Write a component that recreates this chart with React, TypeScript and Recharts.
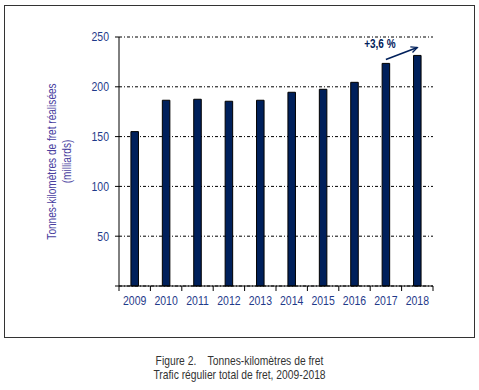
import React from 'react';
import { BarChart, Bar, XAxis, YAxis, CartesianGrid, ReferenceLine, ReferenceDot } from 'recharts';

const years = ['2009', '2010', '2011', '2012', '2013', '2014', '2015', '2016', '2017', '2018'];
const freight = [155, 186.5, 187.5, 185.5, 186.5, 194.5, 197.5, 204.5, 223.5, 231.5];
const yTicks = [0, 50, 100, 150, 200, 250];
const axisTitle = ['Tonnes-kilomètres de fret réalisées', '(milliards)'];
const growthLabel = '+3,6 %';
const captionLines = ['Figure 2.    Tonnes-kilomètres de fret', 'Trafic régulier total de fret, 2009-2018'];
const arrowFrom = { x: '2017', y: 227.5 };
const arrowTo = { x: '2018', y: 239.5 };

const data = years.map((y, i) => ({ year: y, value: freight[i] }));

const FONT = '"Liberation Sans", Arial, sans-serif';
const TICK_COLOR = '#1F3A8A';
const NAVY = '#00205B';
const NARROW = 0.84;

const XTick = (props: any) => {
  const { x, y, payload, index } = props;
  const off = payload && payload.offset != null ? payload.offset : 15.7;
  return (
    <g>
      <line x1={x - off} x2={x - off} y1={y} y2={y + 5} stroke="#000" strokeWidth={1} />
      {index === years.length - 1 && (
        <line x1={x + off} x2={x + off} y1={y} y2={y + 5} stroke="#000" strokeWidth={1} />
      )}
      <text
        x={x}
        y={y + 19}
        textAnchor="middle"
        fill={TICK_COLOR}
        fontSize={12.5}
        fontFamily={FONT}
        transform={`translate(${x} 0) scale(${NARROW} 1) translate(${-x} 0)`}
      >
        {payload.value}
      </text>
    </g>
  );
};

const YTick = (props: any) => {
  const { x, y, payload } = props;
  if (payload.value === 0) return null;
  return (
    <text
      x={x}
      y={y + 4.5}
      textAnchor="end"
      fill={TICK_COLOR}
      fontSize={12.5}
      fontFamily={FONT}
      transform={`translate(${x} 0) scale(${NARROW} 1) translate(${-x} 0)`}
    >
      {payload.value}
    </text>
  );
};

const YTitle = (props: any) => {
  const vb = props.viewBox || { y: 37, height: 249 };
  const cy = vb.y + vb.height / 2;
  return (
    <g fontFamily={FONT} fontSize={12} fill="#4A3F9F">
      <text
        x={52}
        y={cy}
        transform={`rotate(-90 52 ${cy}) translate(52 0) scale(${NARROW} 1) translate(-52 0)`}
        textAnchor="middle"
        dominantBaseline="central"
      >
        {axisTitle[0]}
      </text>
      <text
        x={67}
        y={cy}
        transform={`rotate(-90 67 ${cy}) translate(67 0) scale(${NARROW} 1) translate(-67 0)`}
        textAnchor="middle"
        dominantBaseline="central"
      >
        {axisTitle[1]}
      </text>
    </g>
  );
};

const ArrowShape = (props: any) => {
  const { x1, y1, x2, y2 } = props;
  if (x1 == null) return null;
  const ang = Math.atan2(y2 - y1, x2 - x1);
  const len = 7;
  const a1 = ang + Math.PI - 0.45;
  const a2 = ang + Math.PI + 0.45;
  return (
    <g>
      <line x1={x1} y1={y1} x2={x2} y2={y2} stroke={NAVY} strokeWidth={1.6} />
      <polyline
        points={`${x2 + len * Math.cos(a1)},${y2 + len * Math.sin(a1)} ${x2},${y2} ${x2 + len * Math.cos(a2)},${y2 + len * Math.sin(a2)}`}
        fill="none"
        stroke={NAVY}
        strokeWidth={1.3}
      />
    </g>
  );
};

const GrowthText = (props: any) => {
  const vb = props.viewBox || { x: 0, y: 0 };
  const tx = vb.x - 6;
  return (
    <text
      x={tx}
      y={vb.y + 4}
      textAnchor="middle"
      fill={NAVY}
      fontSize={12.5}
      fontWeight="bold"
      fontFamily={FONT}
      transform={`translate(${tx} 0) scale(0.8 1) translate(${-tx} 0)`}
    >
      {growthLabel}
    </text>
  );
};

export default function App() {
  return (
    <div style={{ position: 'absolute', left: 0, top: 0, width: 479, height: 390, background: '#fff' }}>
      <div
        style={{
          position: 'absolute',
          left: 4,
          top: 5,
          width: 469,
          height: 331,
          border: '1px solid #333',
        }}
      />
      <div style={{ position: 'absolute', left: 0, top: 0 }}>
        <BarChart
          width={479}
          height={340}
          data={data}
          margin={{ top: 37, right: 46, left: 0, bottom: 24 }}
          barCategoryGap="62%"
        >
          <CartesianGrid vertical={false} stroke="#000" strokeDasharray="3 2 1 2" />
          <XAxis
            dataKey="year"
            axisLine={{ stroke: '#000' }}
            tickLine={false}
            tickSize={0}
            tickMargin={0}
            tick={<XTick />}
            height={30}
            interval={0}
          />
          <YAxis
            domain={[0, 250]}
            ticks={yTicks}
            width={119}
            axisLine={{ stroke: '#000' }}
            tickLine={{ stroke: '#000' }}
            tickSize={4}
            tickMargin={6}
            tick={<YTick />}
            label={{ content: <YTitle /> }}
          />
          <Bar dataKey="value" fill={NAVY} stroke="#000" strokeWidth={1} isAnimationActive={false} />
          <ReferenceLine
            segment={[arrowFrom, arrowTo]}
            shape={<ArrowShape />}
            ifOverflow="visible"
          />
          <ReferenceDot
            x="2017"
            y={243}
            r={0}
            fill="none"
            stroke="none"
            ifOverflow="visible"
            label={{ content: <GrowthText /> }}
          />
        </BarChart>
      </div>
      <svg style={{ position: 'absolute', left: 0, top: 350 }} width={479} height={40}>
        <g fontFamily={FONT} fontSize={12} fill="#333" transform="translate(239.5 0) scale(0.86 1) translate(-239.5 0)">
          <text x={239.5} y={15} textAnchor="middle" xmlSpace="preserve">
            {captionLines[0]}
          </text>
          <text x={239.5} y={29} textAnchor="middle">
            {captionLines[1]}
          </text>
        </g>
      </svg>
    </div>
  );
}
